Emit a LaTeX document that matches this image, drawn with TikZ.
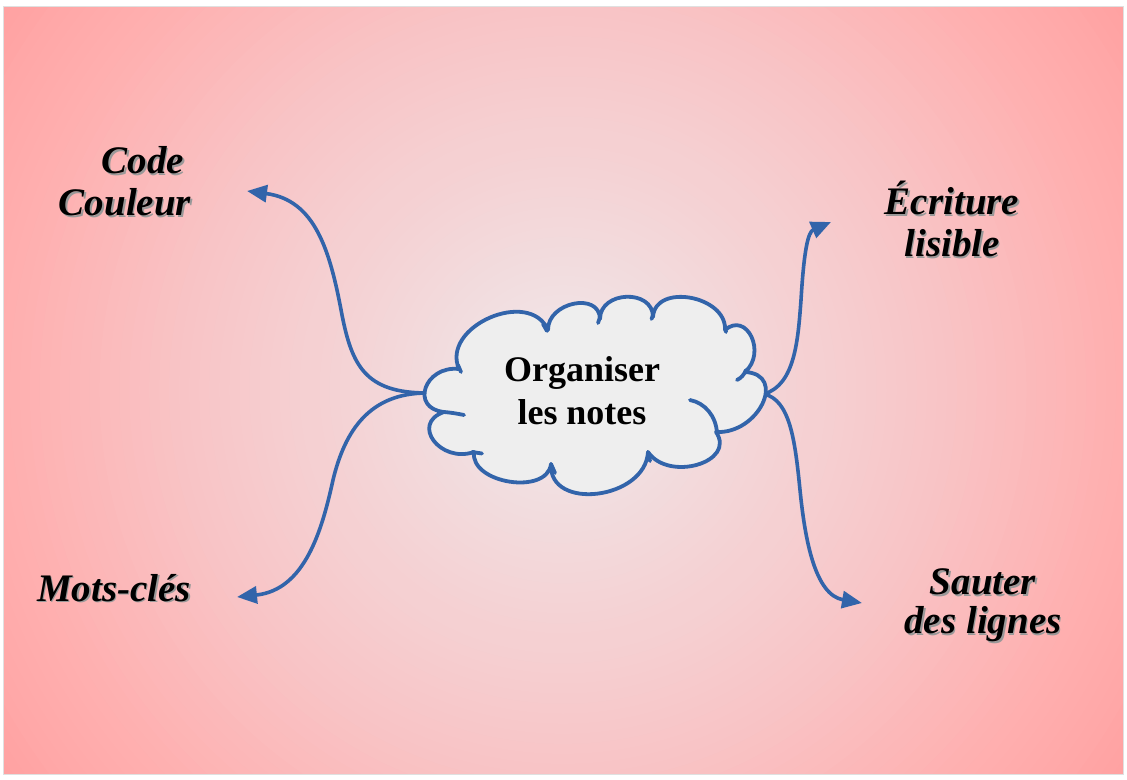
\documentclass[tikz,border=0pt]{standalone}
\usepackage{fontspec}
\setmainfont{Liberation Serif}
\usetikzlibrary{arrows.meta,calc}
\definecolor{cblue}{RGB}{50,100,170}
\definecolor{cfill}{RGB}{238,238,238}
\definecolor{bgA}{RGB}{242,233,235}
\definecolor{bgB}{RGB}{242,219,221}
\definecolor{bgC}{RGB}{248,196,198}
\definecolor{bgD}{RGB}{255,175,175}
\definecolor{bgE}{RGB}{255,160,160}
\newcommand\cbump[3]{.. controls ($0.333*#1+1.333*#2-0.667*#3$) and ($1.333*#2-0.667*#1+0.333*#3$) .. #3}
\newcommand\sh[1]{\makebox[0pt][l]{\kern1.6pt\raisebox{-1.6pt}{\textcolor{black!40}{#1}}}#1}
\tikzset{
  lab/.style={font=\fontsize{39}{42}\selectfont\bfseries\itshape, inner sep=0pt},
  arr/.style={draw=cblue, line width=3.6pt, -{Triangle[length=20pt,width=17pt]}},
  cloudline/.style={draw=cblue, line width=3.8pt, line join=round},
  hook/.style={draw=cblue, line width=3.8pt, line cap=round}
}
\begin{document}
\begin{tikzpicture}[x=1pt,y=-1pt]
\useasboundingbox (0,0) rectangle (1127,779);
\fill[white] (0,0) rectangle (1127,779);
\begin{scope}
  \clip (3,6) rectangle (1123,774);
  \coordinate (bgc) at (563,390);
  \foreach \k in {0,...,14}{
    \pgfmathsetmacro\rr{700-137*\k/14}\pgfmathsetmacro\pp{100*\k/14}
    \fill[bgD!\pp!bgE] (bgc) circle[radius=\rr];}
  \foreach \k in {1,...,18}{
    \pgfmathsetmacro\rr{563-179*\k/18}\pgfmathsetmacro\pp{100*\k/18}
    \fill[bgC!\pp!bgD] (bgc) circle[radius=\rr];}
  \foreach \k in {1,...,24}{
    \pgfmathsetmacro\rr{384-241*\k/24}\pgfmathsetmacro\pp{100*\k/24}
    \fill[bgB!\pp!bgC] (bgc) circle[radius=\rr];}
  \foreach \k in {1,...,14}{
    \pgfmathsetmacro\rr{143-143*\k/15}\pgfmathsetmacro\pp{100*\k/14}
    \fill[bgA!\pp!bgB] (bgc) circle[radius=\rr];}
\end{scope}
\draw[black!12, line width=1pt] (3,6) rectangle (1123,774);

% connector end points
\coordinate (cl) at (427,393);
\coordinate (cr) at (764,394);
\coordinate (tcc) at (247,191);
\coordinate (tmc) at (237,597);
\coordinate (tel) at (831,222);
\coordinate (tsl) at (862,603);

\draw[arr] (cl) .. controls (365,393) and (352,365) .. (342,315) .. controls (330,250) and (315,200) .. (tcc);
\draw[arr] (cl) .. controls (370,393) and (345,430) .. (333,480) .. controls (322,530) and (305,590) .. (tmc);
\draw[arr] (cr) .. controls (795,385) and (798,340) .. (801,300) .. controls (804,250) and (808,232) .. (tel);
\draw[arr] (cr) .. controls (790,400) and (795,440) .. (800,490) .. controls (805,540) and (815,595) .. (tsl);

% cloud
\path[cloudline, fill=cfill] (459,369)
  \cbump{(459,369)}{(490,318)}{(548,330)}
  \cbump{(548,330)}{(574,304)}{(600,319)}
  \cbump{(600,319)}{(627,297)}{(653,317)}
  \cbump{(653,317)}{(691,298)}{(725,330)}
  \cbump{(725,330)}{(752,337)}{(745,372)}
  \cbump{(745,372)}{(763,404)}{(716,432)}
  \cbump{(716,432)}{(698,465)}{(648,452)}
  \cbump{(648,452)}{(598,494)}{(551,464)}
  \cbump{(551,464)}{(510,482)}{(474,452)}
  \cbump{(474,452)}{(434,441)}{(444,412)}
  \cbump{(444,412)}{(426,388)}{(459,369)} -- cycle;
% inner hooks
\draw[hook] (458,365) -- (461,372);
\draw[hook] (543,324) -- (547,331);
\draw[hook] (600,317) -- (598,323);
\draw[hook] (653,315) -- (651.5,319);
\draw[hook] (725,326) -- (726,332);
\draw[hook] (746,370) .. controls (744,375) and (741,378) .. (737,380);
\draw[hook] (690,400) .. controls (705,403) and (716,416) .. (717,433);
\draw[hook] (648,452) -- (650,461);
\draw[hook] (551,464) -- (555,473);
\draw[hook] (472,452) -- (482,453.5);
\draw[hook] (444,412) .. controls (450,412.5) and (457,413.5) .. (464,415);

% texts
\node[font=\fontsize{36}{43}\selectfont\bfseries, align=center, inner sep=0pt] (org) at (582,391) {Organiser\\les notes};
\node[lab, align=right] (cc) at (125,182) {\sh{Code}\kern7pt\\\sh{Couleur}};
\node[lab, align=center] (el) at (952,220) {\sh{Écriture}\\\sh{lisible}};
\node[lab, align=center, font=\fontsize{39}{39}\selectfont\bfseries\itshape] (sl) at (983,606) {\sh{Sauter}\\\sh{des lignes}};
\node[lab, anchor=base] (mc) at (114,601) {\sh{Mots-clés}};
\end{tikzpicture}
\end{document}
